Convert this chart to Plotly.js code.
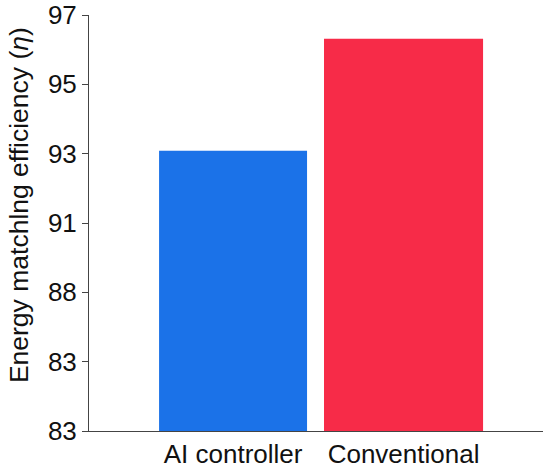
<!DOCTYPE html>
<html>
<head>
<meta charset="utf-8">
<script src="https://cdn.plot.ly/plotly-3.0.1.min.js"></script>
<style>html,body{margin:0;padding:0;background:#fff}#chart{width:550px;height:471px}</style>
</head>
<body>
<div id="chart"></div>
<script>
const categories = ["AI controller", "Conventional"];
const values = [92.43, 96.2];
const barColors = ["#1b72e8", "#f72b48"];
const barWidths = [0.868, 0.933];
const tickVals = [83, 85.333, 87.667, 90, 92.333, 94.667, 97];
const tickText = ["83", "83", "88", "91", "93", "95", "97"];
const yTitle = "Energy matchlng efficiency (<i>η</i>)";

Plotly.newPlot("chart", [{
  type: "bar",
  x: categories,
  y: values,
  width: barWidths,
  marker: {color: barColors, line: {width: 0}},
  hoverinfo: "x+y"
}], {
  width: 550, height: 471,
  margin: {l: 89, r: 7, t: 15, b: 40},
  paper_bgcolor: "#fff", plot_bgcolor: "#fff",
  showlegend: false,
  font: {family: "Liberation Sans, Arial, sans-serif", color: "#111"},
  xaxis: {
    type: "category",
    range: [-0.845, 1.818],
    showline: true, linecolor: "#444", linewidth: 1,
    ticks: "", showgrid: false, zeroline: false,
    tickfont: {size: 26, color: "#111"}
  },
  yaxis: {
    range: [83, 97],
    tickvals: tickVals, ticktext: tickText,
    showline: true, linecolor: "#444", linewidth: 1,
    ticks: "outside", ticklen: 6, tickcolor: "#444", tickwidth: 1,
    showgrid: false, zeroline: false,
    tickfont: {size: 26, color: "#111"}
  },
  annotations: [{
    text: yTitle, textangle: -90, showarrow: false,
    xref: "paper", yref: "paper", x: -0.1542, y: 0.543,
    xanchor: "center", yanchor: "middle",
    font: {size: 26.5, color: "#111"}
  }]
}, {displayModeBar: false, staticPlot: true});
</script>
</body>
</html>
